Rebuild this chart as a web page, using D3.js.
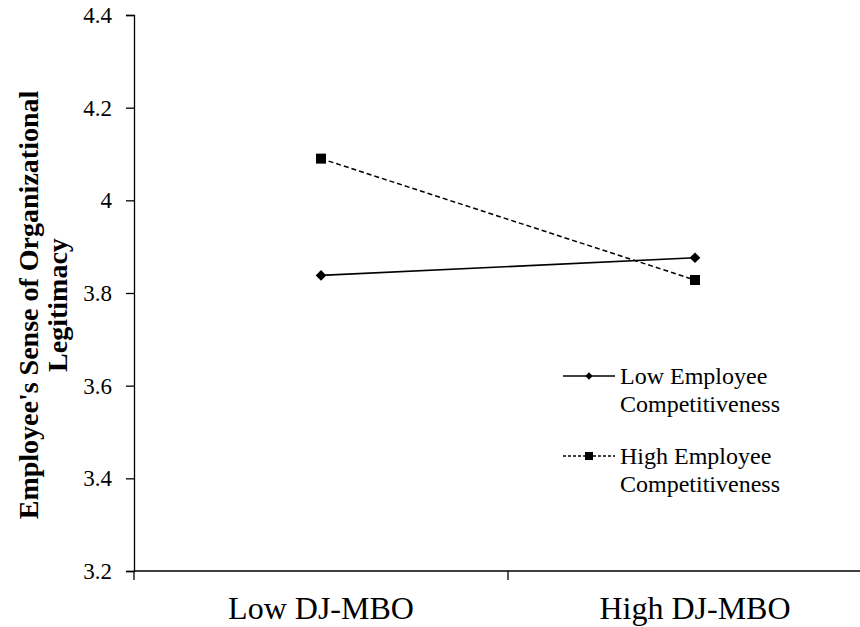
<!DOCTYPE html>
<html>
<head>
<meta charset="utf-8">
<script src="https://cdn.jsdelivr.net/npm/d3@7"></script>
<style>
  body { margin: 0; background: #fff; }
  svg text { font-family: "Liberation Serif", "Times New Roman", serif; fill: #000; }
</style>
</head>
<body>
<svg id="chart" width="860" height="627"></svg>
<script>
var categories = ["Low DJ-MBO", "High DJ-MBO"];
var lowCompetitiveness = [3.838, 3.876];
var highCompetitiveness = [4.09, 3.828];
var yTicks = [3.2, 3.4, 3.6, 3.8, 4.0, 4.2, 4.4];
var yTickLabels = ["3.2", "3.4", "3.6", "3.8", "4", "4.2", "4.4"];

var svg = d3.select("#chart");
var serif = '"Liberation Serif", "Times New Roman", serif';

var x = d3.scaleBand().domain(categories).range([134, 882]);
var y = d3.scaleLinear().domain([3.2, 4.4]).range([571, 15]);

// y axis
var yAxis = svg.append("g").attr("transform", "translate(134,0)")
  .call(d3.axisLeft(y).tickValues(yTicks)
    .tickFormat(function(d, i) { return yTickLabels[i]; })
    .tickSize(8).tickPadding(14))
  .attr("font-family", serif).attr("font-size", 23);
yAxis.select(".domain").attr("stroke", "#000").attr("stroke-width", 1.3);
yAxis.selectAll(".tick line").attr("stroke", "#000").attr("stroke-width", 1.3);
yAxis.selectAll(".tick text").attr("fill", "#222").attr("dy", "0.33em");

// x axis: line plus ticks on band boundaries
var xg = svg.append("g");
xg.append("line")
  .attr("x1", 134).attr("x2", 882)
  .attr("y1", y(3.2)).attr("y2", y(3.2))
  .attr("stroke", "#000").attr("stroke-width", 1.3);
var bounds = [x(categories[0]), x(categories[1]), x(categories[1]) + x.bandwidth()];
xg.selectAll(".xtick").data(bounds).enter()
  .append("line").attr("class", "xtick")
  .attr("x1", function(d) { return d; }).attr("x2", function(d) { return d; })
  .attr("y1", y(3.2)).attr("y2", y(3.2) + 9)
  .attr("stroke", "#000").attr("stroke-width", 1.3);
xg.selectAll(".xlabel").data(categories).enter()
  .append("text").attr("class", "xlabel")
  .attr("x", function(d) { return x(d) + x.bandwidth() / 2; })
  .attr("y", 619)
  .attr("text-anchor", "middle")
  .style("font-size", "32px")
  .text(function(d) { return d; });

// y title
var yt = svg.append("text")
  .attr("transform", "translate(38,305) rotate(-90)")
  .attr("text-anchor", "middle")
  .style("font-size", "28px").style("font-weight", "bold");
yt.append("tspan").attr("x", 0).attr("dy", 0).text("Employee's Sense of Organizational");
yt.append("tspan").attr("x", 0).attr("dy", 29).text("Legitimacy");

function cx(d, i) { return x(categories[i]) + x.bandwidth() / 2; }

var line = d3.line()
  .x(function(d, i) { return cx(d, i); })
  .y(function(d) { return y(d); });

var diamond = d3.symbol().type(d3.symbolDiamond2).size(72);
var square = d3.symbol().type(d3.symbolSquare).size(100);

// series
svg.append("path").datum(highCompetitiveness)
  .attr("d", line).attr("fill", "none")
  .attr("stroke", "#000").attr("stroke-width", 1.5)
  .attr("stroke-dasharray", "5,3");
svg.append("path").datum(lowCompetitiveness)
  .attr("d", line).attr("fill", "none")
  .attr("stroke", "#000").attr("stroke-width", 1.6);

svg.selectAll(".mk-low").data(lowCompetitiveness).enter()
  .append("path").attr("class", "mk-low")
  .attr("d", diamond)
  .attr("transform", function(d, i) { return "translate(" + cx(d, i) + "," + y(d) + ")"; })
  .attr("fill", "#000");
svg.selectAll(".mk-high").data(highCompetitiveness).enter()
  .append("path").attr("class", "mk-high")
  .attr("d", square)
  .attr("transform", function(d, i) { return "translate(" + cx(d, i) + "," + y(d) + ")"; })
  .attr("fill", "#000");

// legend
var legend = [
  { lines: ["Low Employee", "Competitiveness"], dash: null,
    sym: d3.symbol().type(d3.symbolDiamond2).size(34), ly: 376 },
  { lines: ["High Employee", "Competitiveness"], dash: "3,2",
    sym: d3.symbol().type(d3.symbolSquare).size(64), ly: 456 }
];
var lg = svg.selectAll(".legend").data(legend).enter()
  .append("g").attr("class", "legend")
  .attr("transform", function(d) { return "translate(0," + d.ly + ")"; });
lg.append("line")
  .attr("x1", 563).attr("x2", 615).attr("y1", 0).attr("y2", 0)
  .attr("stroke", "#000").attr("stroke-width", 1.5)
  .attr("stroke-dasharray", function(d) { return d.dash; });
lg.append("path")
  .attr("d", function(d) { return d.sym(); })
  .attr("transform", "translate(589,0)")
  .attr("fill", "#000");
lg.each(function(d) {
  var t = d3.select(this).append("text")
    .attr("y", 8)
    .style("font-size", "24px");
  t.append("tspan").attr("x", 620).attr("dy", 0).text(d.lines[0]);
  t.append("tspan").attr("x", 620).attr("dy", 28).text(d.lines[1]);
});
</script>
</body>
</html>
